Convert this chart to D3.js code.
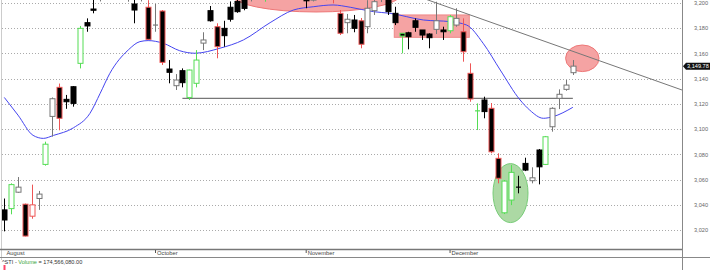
<!DOCTYPE html>
<html><head><meta charset="utf-8">
<script src="https://cdn.jsdelivr.net/npm/d3@7"></script>
<style>body{margin:0;background:#fff;} svg{display:block;font-family:"Liberation Sans",Arial,sans-serif;}</style>
</head><body><svg id="c" width="710" height="270"></svg>
<script>
// ---- data ----
const opens  = [3036,3037,3050,3040.5,3031,3045,3072,3110,3133,3123.5,3133.5,3152,3184.2,3195,3205,3208,3212,3210,3206,3199,3205,3196.4,3182,3193.4,3147.5,3134.3,3146.2,3125,3136.2,3168,3193.7,3181,3179.7,3196.4,3201,3203,3205,3210,3206,3212,3209,3213,3208,3211,3204,3202,3209,3206,3210,3191.6,3184.2,3186.3,3185.7,3181,3193.7,3203,3203,3191.6,3175.8,3176.2,3185.7,3178.4,3175.2,3178.9,3178.4,3177.8,3182.3,3177,3144.1,3114.2,3123,3116.4,3076.8,3033.7,3043.8,3054.2,3072.8,3059.1,3083.4,3072,3101.8,3124.3,3131.4,3144.6];
const highs  = [3045,3057,3062,3041,3056,3051,3090,3125,3136,3127,3134,3181.6,3187.6,3203,3212,3215,3218,3216,3215,3203,3212,3202,3199,3194.2,3154.6,3143.5,3148,3147,3162.5,3176.6,3197.4,3183.7,3185.7,3201,3204,3206,3212,3216,3214,3218,3215,3219,3214,3216,3210,3211,3215,3213,3214,3194.2,3191.1,3190.3,3187.9,3202,3204,3212,3206,3196.8,3175.8,3177,3187.6,3178.4,3175.8,3200.8,3181,3190.3,3195.6,3187.6,3152,3120.3,3125.6,3120.6,3080.8,3059.6,3071.5,3063,3077.3,3069.7,3084.2,3094.5,3117.2,3131.4,3138.8,3154.6];
const lows   = [3019,3032.5,3049.5,3015,3029,3036,3071,3094,3099,3116,3117.7,3148,3177,3191.6,3201,3203,3206,3204,3200.8,3183.7,3201,3170.5,3177,3150.7,3136.2,3130.9,3133,3123,3133,3162.5,3185,3156,3165.2,3185,3192,3194,3201,3204,3200.8,3207,3204,3206,3203,3204,3195.6,3201,3203,3202,3199.5,3174.4,3175.8,3176.6,3163.9,3175.8,3190.3,3200.5,3190.3,3182.3,3159.9,3163.1,3177,3170.5,3163.9,3175.2,3170.5,3175.8,3181,3153.3,3121.6,3099.2,3108.5,3080.8,3057,3032.7,3039.8,3049.1,3066.7,3057,3056.2,3071.5,3097.9,3115.8,3130.3,3142.8];
const closes = [3028,3056,3054,3015.3,3040,3048.5,3088,3124,3108.5,3121.6,3120.3,3179.7,3181.6,3194,3208,3212,3210,3214,3211,3194.2,3208,3171,3182.6,3152.8,3144.9,3138.8,3136.7,3146.7,3154.6,3170.5,3185.7,3165.2,3173.9,3186.9,3192.9,3195.5,3210,3213,3212,3209,3213,3208,3211,3206,3201.5,3209,3206,3211,3203,3175.8,3186.9,3179.7,3167.1,3195.6,3200.8,3208,3192.9,3184.2,3173.6,3173.1,3180.5,3174.4,3172.3,3185.7,3177,3188.9,3187.6,3161.2,3123.8,3114.6,3113.8,3082,3061,3058.8,3065.7,3053.8,3067.5,3061.4,3070.1,3093.9,3116.4,3127.5,3134.8,3149.78];
// volume signal per bar: g = strong up, r = strong down, n = normal
const signals = "ngnrrngnrnngnnnnnnnnnrnrnnnggnnrnnnnnngnnnnnnnnnrrnnrnnnnngnnnnnngnrrgnrrggnnnngnnnn".split("");
const maIdx = [0,2,4.2,5.7,7.2,10.1,12.5,14,15.4,18.1,19.8,21,23.2,25.6,27.8,31.5,34.9,38.8,42.2,45.1,48,50.5,53.9,56.3,61.2,65.1,67.5,69.9,72.4,75.3,76.7,78.7,80.1,83];
const maVal = [3125,3111,3095,3092.6,3095,3101,3112.4,3128.3,3144,3162.6,3169.2,3170,3167.9,3162,3160,3164,3170.5,3184.2,3194.2,3196.8,3198.2,3196.4,3192.9,3191.6,3186.3,3185,3182.3,3167.9,3146.7,3123,3115,3108.5,3109.8,3117.2];
const yTicks = [3020,3040,3060,3080,3100,3120,3140,3160,3180,3200];
const monthIdx = [0,22,44,65];
const monthLabels = ["August","October","November","December"];
const supportLevel = 3124.3, supportFrom = 26, supportTo = 83;
const trendPts = [[55,3215.3],[98.93,3130.9]];
const lastPrice = 3149.78;
const volumeText = "174,566,080.00";

// ---- layout ----
const W = 710, H = 270, plotR = 682, plotB = 249;
const svg = d3.select("#c");
const x = d3.scaleLinear().domain([0, 83]).range([4.3, 572.85]);
const y = d3.scaleLinear().domain([3020, 3200]).range([230.1, 2.7]);

svg.append("defs").append("clipPath").attr("id","pc").append("rect")
  .attr("x",0).attr("y",0).attr("width",plotR).attr("height",plotB);

// grid
const grid = svg.append("g");
yTicks.forEach(t => grid.append("line").attr("x1",2).attr("x2",plotR).attr("y1",Math.round(y(t))+0.5).attr("y2",Math.round(y(t))+0.5)
  .attr("stroke","#aaa").attr("stroke-dasharray","1,2"));

const P = svg.append("g").attr("clip-path","url(#pc)");

// annotations
P.append("ellipse").attr("cx",x(45.5)).attr("cy",y(3206.1)).attr("rx",84).attr("ry",17)
  .attr("fill","#f5a3a3").attr("stroke","#e77").attr("stroke-width",1);
P.append("rect").attr("x",x(56.93)).attr("y",y(3190.3)).attr("width",x(67.88)-x(56.93)).attr("height",y(3172.6)-y(3190.3))
  .attr("fill","#f5a3a3").attr("stroke","#e88").attr("stroke-width",1);
P.append("ellipse").attr("cx",x(73.9)).attr("cy",y(3049.3)).attr("rx",17.5).attr("ry",29.5)
  .attr("fill","#acd9a4").attr("stroke","#7c7").attr("stroke-width",1);
P.append("ellipse").attr("cx",x(84.38)).attr("cy",y(3156)).attr("rx",16.7).attr("ry",13.3)
  .attr("fill","#f5a3a3").attr("stroke","#e77").attr("stroke-width",1);

// support + trend lines
P.append("line").attr("x1",x(supportFrom)).attr("x2",x(supportTo)).attr("y1",y(supportLevel)).attr("y2",y(supportLevel))
  .attr("stroke","#777").attr("stroke-width",1.2);
P.append("line").attr("x1",x(trendPts[0][0])).attr("y1",y(trendPts[0][1])).attr("x2",x(trendPts[1][0])).attr("y2",y(trendPts[1][1]))
  .attr("stroke","#777").attr("stroke-width",1);

// moving average
P.append("path").datum(maIdx.map((d,i)=>[d,maVal[i]]))
  .attr("d", d3.line().x(d=>x(d[0])).y(d=>y(d[1])).curve(d3.curveMonotoneX))
  .attr("fill","none").attr("stroke","#4545f0").attr("stroke-width",1);

// candles
const col = (i) => {
  const up = closes[i] >= opens[i];
  if (signals[i]==="g") return "#55dd55";
  if (signals[i]==="r") return "#ee5555";
  return up ? "#777" : "#000";
};
const cg = P.append("g");
opens.forEach((o,i) => {
  const cx = Math.round(x(i)) + 0.5;
  const c = col(i), up = closes[i] >= o;
  cg.append("line").attr("x1",cx).attr("x2",cx).attr("y1",y(highs[i])).attr("y2",y(lows[i])).attr("stroke",c).attr("stroke-width",1);
  const top = y(Math.max(o,closes[i])), bot = y(Math.min(o,closes[i]));
  const h = Math.max(bot-top, 0.01);
  if (bot-top < 1.2) {
    cg.append("line").attr("x1",cx-2.5).attr("x2",cx+2.5).attr("y1",(top+bot)/2).attr("y2",(top+bot)/2).attr("stroke",c).attr("stroke-width",1.2);
  } else {
    cg.append("rect").attr("x",cx-2.5).attr("y",top).attr("width",5).attr("height",h)
      .attr("fill", up ? "#fff" : "#000").attr("stroke",c).attr("stroke-width",1);
  }
});

// right axis
svg.append("line").attr("x1",plotR+0.5).attr("x2",plotR+0.5).attr("y1",0).attr("y2",H).attr("stroke","#888").attr("stroke-width",1);
const ya = svg.append("g").attr("transform",`translate(${plotR},0)`)
  .call(d3.axisRight(y).tickValues(yTicks).tickSize(0).tickPadding(12).tickFormat(d3.format(",")));
ya.select(".domain").remove();
ya.selectAll("text").attr("font-size","5.6px").attr("fill","#666").attr("font-family","Liberation Sans, Arial, sans-serif");

// left border
svg.append("line").attr("x1",1.5).attr("x2",1.5).attr("y1",0).attr("y2",260).attr("stroke","#ccc");

// last price tag
const ly = y(lastPrice);
svg.append("path").attr("d",`M${plotR+1},${ly} L${plotR+4},${ly-3.5} L${W},${ly-3.5} L${W},${ly+3.5} L${plotR+4},${ly+3.5} Z`).attr("fill","#111");
svg.append("text").attr("x",plotR+5).attr("y",ly+2).attr("font-size","5.6px").attr("fill","#fff").text(d3.format(",.2f")(lastPrice));

// bottom axis band
svg.append("line").attr("x1",0).attr("x2",plotR).attr("y1",249.5).attr("y2",249.5).attr("stroke","#777").attr("stroke-width",1.3);
svg.append("line").attr("x1",0).attr("x2",W).attr("y1",257.5).attr("y2",257.5).attr("stroke","#888").attr("stroke-width",1);
const xa = svg.append("g").attr("transform","translate(0,250)")
  .call(d3.axisBottom(x).tickValues(monthIdx).tickSize(3).tickFormat((d,i)=>monthLabels[i]));
xa.select(".domain").remove();
xa.selectAll(".tick line").attr("stroke","#555").attr("opacity",(d,i)=> i===0 ? 0 : 1);
xa.selectAll(".tick text").attr("text-anchor","start").attr("x",(d,i)=> i===0 ? 1.7 : 1.5).attr("y",0).attr("dy","5px")
  .attr("font-size","5.8px").attr("fill","#444").attr("font-family","Liberation Sans, Arial, sans-serif");

// volume legend
const lt = svg.append("text").attr("x",2).attr("y",264).attr("font-size","5.6px").attr("fill","#333");
lt.append("tspan").text("^STI - ");
lt.append("tspan").attr("fill","#3aa63a").text("Volume");
lt.append("tspan").text(" = " + volumeText);
svg.append("rect").attr("x",x(0)-0.8).attr("y",265).attr("width",2).attr("height",5).attr("fill","#f46");
</script></body></html>
